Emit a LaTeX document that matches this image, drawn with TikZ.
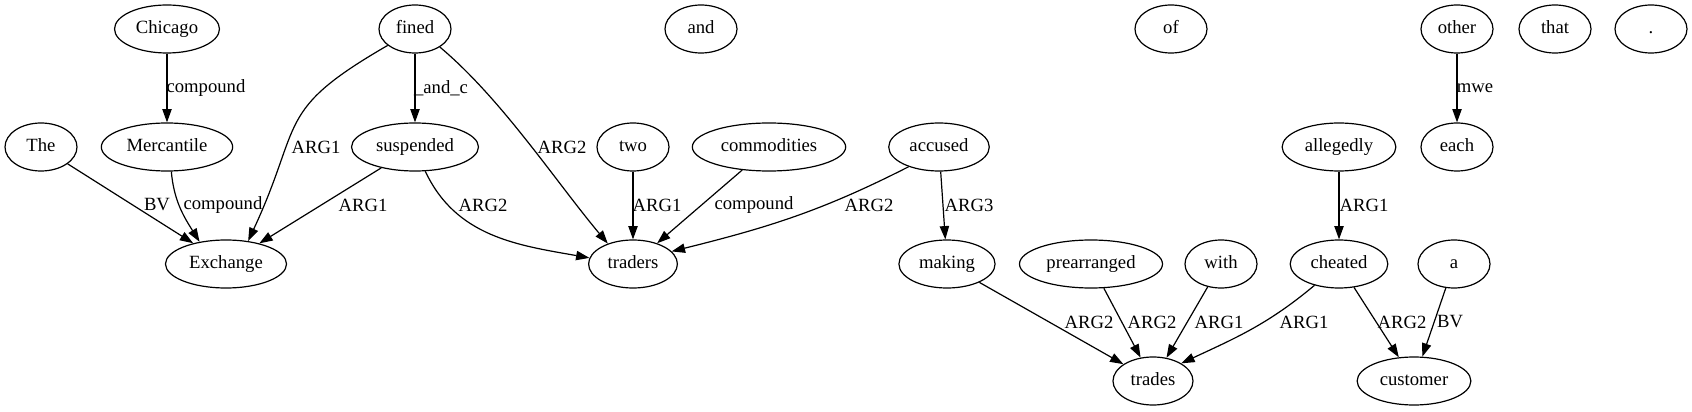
\documentclass[tikz,border=0pt]{standalone}
\usepackage{fontspec}
\setmainfont{Liberation Serif}
\usetikzlibrary{shapes.geometric,arrows.meta}

\tikzset{
  word/.style={draw, ellipse, line width=0.9pt, minimum width=54pt, minimum height=36pt,
    inner xsep=4.5pt, inner ysep=1pt, text height=10pt, text depth=3pt,
    font=\fontsize{14}{16}\selectfont},
  dep/.style={draw, line width=0.9pt, -{Triangle[length=10pt,width=7pt]}},
  rel/.style={font=\fontsize{14}{16}\selectfont, inner sep=0pt},
}

\begin{document}
\begin{tikzpicture}[x=0.75pt,y=0.75pt]
\useasboundingbox (0,0) rectangle (1692,411);

%% words
\node[word] (chicago) at (167,382) {Chicago};
\node[word] (fined)   at (415,382) {fined};
\node[word] (and)     at (701,382) {and};
\node[word] (of)      at (1171,382) {of};
\node[word] (other)   at (1457,382) {other};
\node[word] (that)    at (1555,382) {that};
\node[word] (dot)     at (1651,382) {.};

\node[word] (the)     at (41,264) {The};
\node[word] (merc)    at (167,264) {Mercantile};
\node[word] (susp)    at (415,264) {suspended};
\node[word] (two)     at (633,264) {two};
\node[word] (comm)    at (769,264) {commodities};
\node[word] (accused) at (939,264) {accused};
\node[word] (alleg)   at (1339,264) {allegedly};
\node[word] (each)    at (1457,264) {each};

\node[word] (exch)    at (226,147) {Exchange};
\node[word] (traders) at (633,147) {traders};
\node[word] (making)  at (947,147) {making};
\node[word] (prearr)  at (1091,147) {prearranged};
\node[word] (with)    at (1221,147) {with};
\node[word] (cheated) at (1339,147) {cheated};
\node[word] (a)       at (1454,147) {a};

\node[word] (trades)  at (1153,30) {trades};
\node[word] (cust)    at (1414,30) {customer};

%% relations
\draw[dep] (chicago) -- (merc) node[rel] at (206,323) {compound};                        %% chicago-mercantile
\draw[dep] (the) -- (exch) node[rel] at (157,206) {BV};                                   %% the-exchange
\draw[dep] (merc.-80) to[out=-85,in=122] (exch.140) node[rel] at (223,206) {compound};   %% mercantile-exchange
\draw[dep] (fined.211) to[out=210,in=65,looseness=1.4] (exch.46) node[rel] at (316,264) {ARG1}; %% fined-exchange
\draw[dep] (fined) -- (susp) node[rel] at (441,323) {\_and\_c};                           %% fined-suspended
\draw[dep] (fined.-36) to[out=-40,in=130,looseness=0.8] (traders.141) node[rel] at (562,264) {ARG2}; %% fined-traders
\draw[dep] (susp) -- (exch) node[rel] at (363,206) {ARG1};                                %% suspended-exchange
\draw[dep] (susp.-67) to[out=-65,in=170] (traders.172) node[rel] at (483,206) {ARG2};     %% suspended-traders
\draw[dep] (two) -- (traders) node[rel] at (657,206) {ARG1};                              %% two-traders
\draw[dep] (comm) -- (traders) node[rel] at (754,206) {compound};                         %% commodities-traders
\draw[dep] (accused.213) to[out=207,in=14] (traders.18) node[rel] at (869,206) {ARG2};    %% accused-traders
\draw[dep] (accused) -- (making) node[rel] at (969,206) {ARG3};                           %% accused-making
\draw[dep] (making) -- (trades) node[rel] at (1089,89) {ARG2};                            %% making-trades
\draw[dep] (prearr) -- (trades) node[rel] at (1152,89) {ARG2};                            %% prearranged-trades
\draw[dep] (with) -- (trades) node[rel] at (1219,89) {ARG1};                              %% with-trades
\draw[dep] (cheated.221) to[out=220,in=25] (trades.32) node[rel] at (1304,89) {ARG1};     %% cheated-trades
\draw[dep] (cheated) -- (cust) node[rel] at (1402,89) {ARG2};                             %% cheated-customer
\draw[dep] (a) -- (cust) node[rel] at (1450,89) {BV};                                     %% a-customer
\draw[dep] (alleg) -- (cheated) node[rel] at (1364,206) {ARG1};                           %% allegedly-cheated
\draw[dep] (other) -- (each) node[rel] at (1475,323) {mwe};                               %% other-each
\end{tikzpicture}
\end{document}
